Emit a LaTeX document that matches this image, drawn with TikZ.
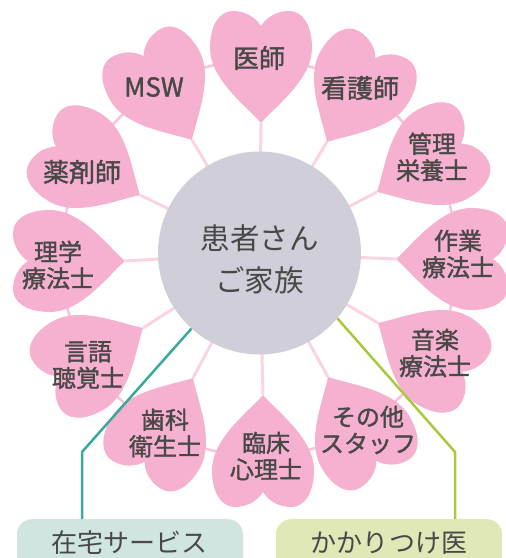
\documentclass[tikz,border=0pt]{standalone}
\usepackage{fontspec}
\setmainfont{Noto Sans CJK JP}
\newfontfamily\hfont{Noto Sans CJK JP}[FakeBold=1.4]
\definecolor{heartpink}{HTML}{F5B1CF}
\definecolor{ringpink}{HTML}{F7C3DA}
\definecolor{spokepink}{HTML}{FAD4E4}
\definecolor{ctrgray}{HTML}{D0CED8}
\definecolor{txtgray}{HTML}{484848}
\definecolor{tealline}{HTML}{3AA99A}
\definecolor{greenline}{HTML}{A9C83C}
\definecolor{tealbox}{HTML}{D0E5E2}
\definecolor{greenbox}{HTML}{DFE8B6}
\newcommand\heartshape{(0,0) .. controls (16,18) and (51,44) .. (51,75) .. controls (51,99) and (41,112) .. (28,112) .. controls (15,112) and (5,105) .. (0,97) .. controls (-5,105) and (-15,112) .. (-28,112) .. controls (-41,112) and (-51,99) .. (-51,75) .. controls (-51,44) and (-16,18) .. (0,0) -- cycle}
\tikzset{
  hlabel/.style={text=txtgray, font=\hfont\fontsize{24}{26.5}\selectfont, align=center, inner sep=0pt},
  hlabelbig/.style={hlabel, font=\hfont\fontsize{26}{28}\selectfont},
  spokeline/.style={spokepink, line width=3pt},
  ringline/.style={ringpink, line width=2.5pt},
  bottombox/.style={rounded corners=15pt, minimum width=226pt, minimum height=70pt, inner sep=0pt, anchor=north},
  boxtext/.style={text=txtgray, font=\fontsize{26}{30}\selectfont, inner sep=0pt},
  linkline/.style={line width=2.5pt}
}
\begin{document}
\begin{tikzpicture}[x=1pt,y=1pt]
\useasboundingbox (0,0) rectangle (506,-558);
\coordinate (H) at (259,-258);
\coordinate (C) at (259.5,-253);
% ring behind hearts
\draw[ringline] (H) circle (198);
% tips (measured)
\foreach \x/\y/\n in {261/123/1,327/142/2,377/192/3,396/259/4,378/323/5,328/377/6,263/395/7,193/378/8,143/328/9,125/261/10,140/195/11,192/140/12}{
  \coordinate (tip\n) at (\x,-\y);
}
\foreach \n in {1,...,12}{
  \draw[spokeline] (C) -- (tip\n);
}
% hearts
\foreach \a/\n in {90/1,60/2,30/3,0/4,-30/5,-60/6,-90/7,-120/8,-150/9,180/10,150/11,120/12}{
  \begin{scope}[shift={(tip\n)}, rotate=\a-90]
    \fill[heartpink] \heartshape;
  \end{scope}
}
% centre circle
\node[circle, fill=ctrgray, minimum size=203pt, inner sep=0pt] (ctr) at (C) {};
\node[text=txtgray, align=center, inner sep=0pt, font=\fontsize{29.5}{42}\selectfont] (ctrtext) at (259.5,-259) {患者さん\\ご家族};
% labels
\foreach \x/\y/\n/\t in {432/157/3/管理\\栄養士,458/254/4/作業\\療法士,435/353/5/音楽\\療法士,368/430/6/その他\\スタッフ,266/456/7/臨床\\心理士,165/433/8/歯科\\衛生士,88/365/9/言語\\聴覚士,58/265/10/理学\\療法士}{
  \node[hlabel] (lab\n) at (\x,-\y) {\t};
}
\foreach \x/\y/\n/\t in {259/58/1/医師,360/88/2/看護師,82/172/11/薬剤師,154/87/12/MSW}{
  \node[hlabelbig] (lab\n) at (\x,-\y) {\t};
}
% bottom boxes
\node[bottombox, fill=tealbox] (zaitaku) at (130,-519) {};
\node[bottombox, fill=greenbox] (kakari) at (389,-519) {};
\node[boxtext] (zaitakutext) at (130,-543) {在宅サービス};
\node[boxtext] (kakaritext) at (389,-543) {かかりつけ医};
% connectors
\coordinate (tbend) at (82,-452);
\coordinate (gbend) at (455,-452);
\draw[linkline, tealline] (ctr.228) -- (tbend) -- (tbend |- zaitaku.north);
\draw[linkline, greenline] (ctr.320) -- (gbend) -- (gbend |- kakari.north);
\end{tikzpicture}
\end{document}
